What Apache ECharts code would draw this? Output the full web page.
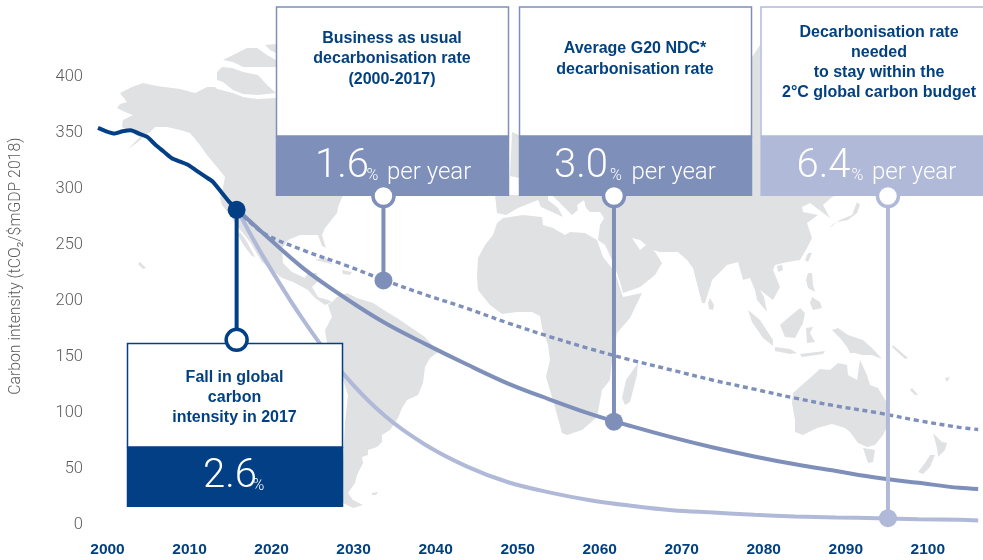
<!DOCTYPE html>
<html>
<head>
<meta charset="utf-8">
<style>html,body{margin:0;padding:0;background:#fff}#chart{width:983px;height:560px}</style>
<script src="https://cdn.jsdelivr.net/npm/echarts@6/dist/echarts.min.js"></script>
</head>
<body>
<div id="chart"></div>
<script>
// Global carbon intensity, history and three decarbonisation pathways
const historyYears = [2000,2001,2002,2003,2004,2005,2006,2007,2008,2009,2010,2011,2012,2013,2014,2015,2016,2017];
const historyValues = [351,348,346,348,349,346,343,336,330,324,321,318,313,308,303,294,285,278];
const pathYears = [2017,2020,2025,2030,2035,2040,2045,2050,2055,2060,2065,2070,2075,2080,2085,2090,2095,2100,2105,2107.3];
const businessAsUsual = [278,258,242,229,215,202,190,177,165,154,144,135,126,118,110,103,97,90,84,82];
const averageNdc = [278,258,226,200,177,158,140,123,109,96,85,75,66,58,51,45,39,34.5,30,29];
const budget2C = [278,238,180,131,94,68,49,35,26,19,14,10,8,6,4.5,3.5,3,2,1.5,1];
const xTickStart = 2000, xTickStep = 10, xEnd = 2107.4;
const yTicks = {min: 0, max: 400, step: 50};
const yTitle = 'Carbon intensity (tCO₂/$mGDP 2018)';

const NAVY = '#023f84', MID = '#7e8fba', PALE = '#b0b9d8', LAND = '#e0e1e3';

// Callouts: [year on the curve, value on the curve, value at the box edge]
const calloutFall = [2016.9, 278, 162];
const calloutBau = [2034.8, 215, 290.3];
const calloutNdc = [2062.9, 89, 290.3];
const callout2C = [2096.3, 3, 290.3];

// Background world map outlines, in page pixels
const land = [
  // North and Central America
  [[120,93],[132,87],[143,83],[157,86],[180,89],[195,93],[207,87],[215,87],[217,89],[233,93],[243,97],[257,99],[276,98],[300,100],[380,100],[343,195],[338,207],[337,213],[325,228],[322,235],[326,248],[322,246],[318,235],[312,235],[300,235],[288,240],[282,248],[283,263],[292,272],[305,278],[308,273],[317,273],[317,282],[312,287],[318,297],[328,300],[332,302],[325,305],[315,298],[308,290],[293,282],[282,278],[272,270],[262,262],[250,242],[235,223],[232,218],[222,205],[220,198],[222,193],[225,177],[217,167],[207,155],[200,145],[190,133],[180,130],[167,127],[155,127],[150,132],[145,135],[138,142],[128,149],[140,137],[132,133],[122,127],[123,120],[133,115],[125,112],[117,108],[120,104],[127,102]],
  // Baja California
  [[240,232],[246,240],[255,257],[252,256],[244,246],[238,235]],
  // Arctic islands
  [[217,72],[222,67],[232,68],[243,72],[258,75],[267,85],[276,93],[258,95],[243,94],[233,90],[223,82],[217,80]],
  [[223,60],[237,53],[247,48],[257,48],[267,55],[276,60],[276,67],[263,67],[243,67],[233,62]],
  [[265,45],[276,44],[276,53],[270,50]],
  // Caribbean and Hawaii
  [[315,260],[325,257],[333,265],[340,268],[328,263]],
  [[342,270],[352,272],[350,275],[343,274]],
  [[140,262],[146,268],[143,269],[138,264]],
  // South America
  [[332,302],[337,297],[347,293],[357,298],[373,303],[387,312],[397,318],[425,337],[438,352],[430,358],[425,367],[423,383],[418,395],[407,400],[402,408],[398,418],[390,430],[382,435],[382,442],[377,447],[368,450],[368,455],[362,457],[363,463],[357,475],[355,483],[348,493],[353,500],[363,505],[353,508],[343,503],[342,480],[345,423],[348,395],[343,380],[335,360],[327,343],[325,330],[332,317],[328,305]],
  [[372,493],[378,492],[376,495],[372,495]],
  // Africa
  [[503,218],[497,223],[493,235],[485,245],[478,258],[477,277],[478,290],[490,305],[502,314],[517,312],[532,312],[540,316],[542,328],[548,345],[550,360],[546,377],[555,407],[562,433],[567,435],[582,430],[597,417],[602,390],[610,380],[612,360],[617,333],[630,318],[642,293],[623,297],[620,288],[615,272],[603,257],[597,240],[585,233],[570,232],[565,235],[553,228],[543,225],[542,217],[523,215]],
  [[638,363],[637,375],[630,402],[625,405],[622,398],[626,380],[633,370]],
  // Eurasia with Arabia, India and South-East Asia
  [[495,195],[497,213],[506,215],[518,208],[528,204],[538,200],[541,207],[552,212],[563,217],[558,208],[548,200],[548,195],[552,195],[565,208],[572,215],[578,210],[577,205],[584,200],[586,208],[590,212],[600,212],[604,218],[600,225],[598,240],[605,245],[613,262],[620,282],[623,293],[640,287],[655,275],[662,263],[655,252],[646,245],[640,250],[632,238],[640,240],[652,250],[660,252],[678,252],[687,260],[693,268],[702,303],[705,303],[710,287],[712,280],[727,265],[738,262],[743,280],[750,278],[755,290],[757,300],[767,312],[764,297],[760,290],[773,300],[780,287],[773,270],[775,265],[787,262],[800,260],[807,248],[812,238],[807,223],[818,215],[803,212],[802,207],[810,203],[822,212],[830,218],[823,205],[832,197],[838,195],[760,195],[760,45],[750,60],[750,195]],
  // British Isles
  [[512,132],[519,135],[519,178],[510,176]],
  // East Asian islands
  [[830,228],[837,222],[848,220],[857,213],[860,205],[857,202],[852,215],[840,220],[832,225]],
  [[808,253],[812,253],[808,262],[805,260]],
  [[777,266],[782,265],[783,270],[778,272]],
  [[808,273],[812,273],[813,285],[815,292],[808,288],[806,280]],
  [[812,297],[820,302],[822,308],[813,310],[810,303]],
  [[710,298],[714,305],[713,310],[709,309],[708,303]],
  // Indonesia and New Guinea
  [[748,310],[760,320],[773,340],[773,346],[763,338],[752,322]],
  [[775,347],[790,349],[797,353],[790,354],[775,351]],
  [[800,354],[825,351],[823,354],[802,357]],
  [[780,325],[788,318],[800,308],[805,313],[803,323],[795,338],[785,337]],
  [[806,328],[813,327],[810,333],[815,342],[807,343]],
  [[832,330],[838,328],[848,335],[863,340],[872,348],[882,359],[872,355],[862,355],[855,353],[850,353],[847,347],[840,338]],
  // Australia and New Zealand
  [[793,393],[810,378],[820,369],[830,370],[838,363],[847,365],[848,375],[857,380],[860,360],[867,375],[870,385],[878,388],[887,403],[887,415],[887,427],[883,435],[875,445],[867,447],[858,443],[850,432],[845,428],[832,424],[817,428],[803,435],[795,432],[795,420],[792,403]],
  [[863,448],[875,450],[873,462],[868,463]],
  [[933,433],[942,442],[947,443],[945,450],[938,457],[937,448]],
  [[930,455],[935,455],[930,467],[923,474],[918,472],[925,463]],
  // Pacific islands
  [[912,388],[918,395],[915,395],[910,390]],
  [[893,345],[908,358],[905,359],[892,347]],
  [[945,378],[950,377],[947,382]]
];

// Text blocks and boxes
const boxes = [
  {x: 276.5, w: 232, top: 7, split: 136, bottom: 196, color: MID, cx: 392,
   lines: [['Business as usual',38],['decarbonisation rate',58],['(2000-2017)',78.5]],
   rate: '1.6', rx: 315, px: 366.5, yx: 387, unit: 'per year'},
  {x: 519.5, w: 232, top: 7, split: 136, bottom: 196, color: MID, cx: 635,
   lines: [['Average G20 NDC*',47.5],['decarbonisation rate',68.5]],
   rate: '3.0', rx: 554, px: 610, yx: 631.5, unit: 'per year'},
  {x: 761, w: 240, top: 7, split: 136, bottom: 196, color: PALE, cx: 879,
   lines: [['Decarbonisation rate',31.5],['needed',51.5],['to stay within the',72],['2°C global carbon budget',92]],
   rate: '6.4', rx: 796.5, px: 851.5, yx: 872, unit: 'per year'},
  {x: 127.5, w: 215, top: 343.5, split: 447, bottom: 507, color: NAVY, cx: 234.5,
   lines: [['Fall in global',376.5],['carbon',396.5],['intensity in 2017',416.5]],
   rate: '2.6', rx: 203, px: 252.5, baseline: 488}
];

const LIGHT = 'Roboto, "Liberation Sans", sans-serif';
const BOLD = '"Liberation Sans", Arial, sans-serif';

const graphics = [];
land.forEach(points => graphics.push({
  type: 'polygon', silent: true, z: 0, shape: {points}, style: {fill: LAND}
}));
boxes.forEach(b => {
  const base = b.baseline || 178;
  graphics.push({type: 'rect', z: 5, silent: true,
    shape: {x: b.x, y: b.top, width: b.w, height: b.split - b.top},
    style: {fill: '#fff', stroke: b.color, lineWidth: 1.5}});
  graphics.push({type: 'rect', z: 5, silent: true,
    shape: {x: b.x - 0.75, y: b.split, width: b.w + 1.5, height: b.bottom - b.split},
    style: {fill: b.color}});
  b.lines.forEach(([text, y]) => graphics.push({type: 'text', z: 6, silent: true,
    style: {text, x: b.cx, y: y + 0.8, align: 'center', verticalAlign: 'middle',
      fontFamily: BOLD, fontWeight: 'bold', fontSize: 16, fill: '#03407f'}}));
  graphics.push({type: 'text', z: 6, silent: true,
    style: {text: b.rate, x: b.rx, y: base + 8, align: 'left', verticalAlign: 'bottom',
      fontFamily: LIGHT, fontWeight: 300, fontSize: 40, lineHeight: 38, fill: '#fff'}});
  graphics.push({type: 'text', z: 6, silent: true,
    style: {text: '%', x: b.px, y: base + 6, align: 'left', verticalAlign: 'bottom',
      fontFamily: LIGHT, fontWeight: 300, fontSize: 16, lineHeight: 16, fill: '#fff'}});
  if (b.unit) graphics.push({type: 'text', z: 6, silent: true,
    style: {text: b.unit, x: b.yx, y: base + 7, align: 'left', verticalAlign: 'bottom',
      fontFamily: LIGHT, fontWeight: 300, fontSize: 24, lineHeight: 24, fill: '#fff'}});
});

const pairs = (xs, ys) => xs.map((x, i) => [x, ys[i]]);

function path(name, ys, color, extra) {
  return Object.assign({
    name, type: 'line', data: pairs(pathYears, ys), smooth: 0.35, showSymbol: false, z: 2,
    lineStyle: {color, width: 4}, silent: true
  }, extra || {});
}

function callout(c, color) {
  return {
    type: 'line', z: 10, silent: true, symbol: 'circle', showAllSymbol: true,
    lineStyle: {color, width: 4},
    data: [
      {value: [c[0], c[1]], symbolSize: 18, itemStyle: {color}},
      {value: [c[0], c[2]], symbolSize: 21, itemStyle: {color: '#fff', borderColor: color, borderWidth: 3.5}}
    ]
  };
}

const chart = echarts.init(document.getElementById('chart'), null, {renderer: 'canvas'});
chart.setOption({
  animation: false,
  backgroundColor: '#fff',
  grid: {left: 98, top: 73, width: 881, height: 448.5},
  xAxis: {
    type: 'value', min: xTickStart, max: xEnd, interval: xTickStep,
    axisLine: {show: false}, axisTick: {show: false}, splitLine: {show: false},
    axisLabel: {
      color: '#03407f', fontFamily: BOLD, fontWeight: 'bold', fontSize: 15.5, margin: 20,
      showMaxLabel: false, showMinLabel: true, padding: [0, 0, 0, 19],
      formatter: v => String(v)
    }
  },
  yAxis: {
    type: 'value', min: yTicks.min, max: yTicks.max, interval: yTicks.step,
    name: yTitle, nameLocation: 'middle', nameGap: 74,
    nameTextStyle: {color: '#5c5c5c', fontFamily: LIGHT, fontWeight: 300, fontSize: 15.8, padding: [0, 0, 0, 62]},
    axisLine: {show: false}, axisTick: {show: false}, splitLine: {show: false},
    axisLabel: {
      margin: 15, formatter: '{tick|{value}}',
      rich: {tick: {color: '#5c5c5c', fontFamily: LIGHT, fontWeight: 300, fontSize: 16.5, lineHeight: 24, verticalAlign: 'bottom'}}
    }
  },
  graphic: graphics,
  series: [
    path('2°C budget rate', budget2C, PALE),
    path('Average G20 NDC rate', averageNdc, MID),
    path('Business as usual rate', businessAsUsual, MID, {
      lineStyle: {color: MID, width: 3.4, type: [5, 3.7]}
    }),
    {name: 'Carbon intensity', type: 'line', data: pairs(historyYears, historyValues), showSymbol: false,
      smooth: 0.2, z: 4, silent: true, lineStyle: {color: NAVY, width: 4}},
    callout(calloutBau, MID),
    callout(calloutNdc, MID),
    callout(callout2C, PALE),
    callout(calloutFall, NAVY)
  ]
});
</script>
</body>
</html>
